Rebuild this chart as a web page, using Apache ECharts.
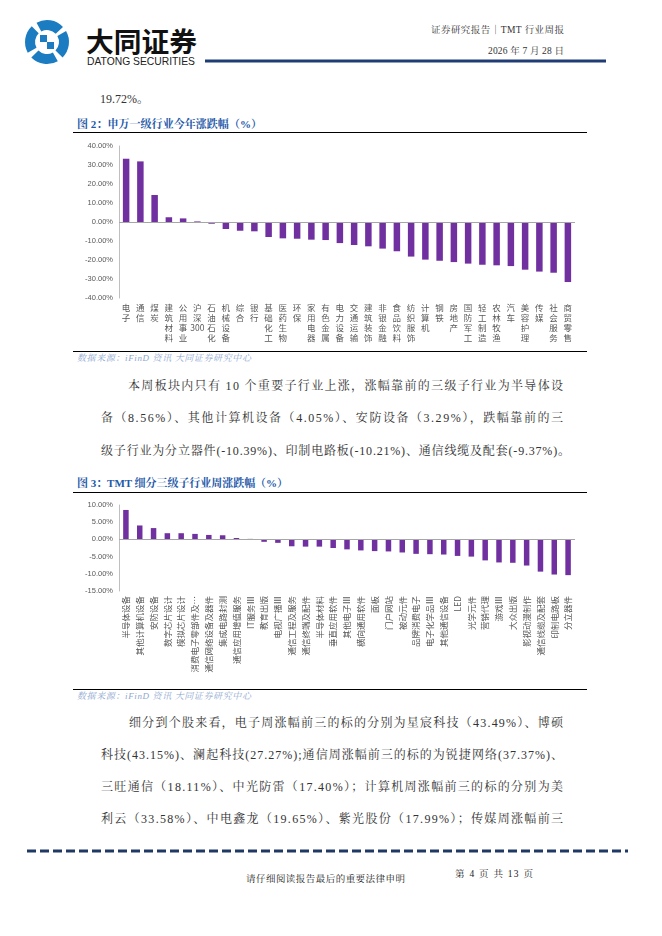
<!DOCTYPE html>
<html>
<head>
<meta charset="utf-8">
<script src="https://cdn.jsdelivr.net/npm/echarts@6/dist/echarts.min.js"></script>
<style>
html,body{margin:0;padding:0;background:#fff;width:662px;height:936px;overflow:hidden}
#page{position:absolute;left:0;top:0}
#c1{position:absolute;left:0;top:136px;width:662px;height:212px}
#c2{position:absolute;left:0;top:498px;width:662px;height:190px}
.t{font-family:'Liberation Serif','Times New Roman','Noto Serif CJK SC','Noto Sans CJK SC',serif}
</style>
</head>
<body>
<svg id="page" width="662" height="936" xmlns="http://www.w3.org/2000/svg">
  <!-- logo -->
  <g transform="translate(47,42)">
    <circle r="17" fill="none" stroke="#1C7CC2" stroke-width="10" stroke-dasharray="22 4.7" transform="rotate(-30)"/>
    <rect x="-7" y="-7" width="7" height="7" fill="#1C7CC2"/>
    <rect x="0" y="0" width="7" height="7" fill="#1C7CC2"/>
    <rect x="0" y="-7" width="7" height="7" fill="#ffffff"/>
  </g>
  <text x="86" y="52" font-family="'Noto Sans CJK SC',sans-serif" font-weight="bold" font-size="27" fill="#111" textLength="111" lengthAdjust="spacingAndGlyphs">大同证券</text>
  <text x="87" y="65" font-family="'Liberation Sans Narrow','Liberation Sans',sans-serif" font-size="11" fill="#222" textLength="108" lengthAdjust="spacingAndGlyphs">DATONG SECURITIES</text>
  <text class="t" x="564" y="33" text-anchor="end" font-size="9.5" fill="#333" textLength="133" lengthAdjust="spacing">证券研究报告｜TMT 行业周报</text>
  <text class="t" x="564" y="54" text-anchor="end" font-size="9.5" fill="#333" textLength="76" lengthAdjust="spacing">2026 年 7 月 28 日</text>
  <line x1="205" y1="61" x2="606" y2="61" stroke="#1F3C74" stroke-width="3"/>

  <text class="t" x="100" y="102.5" font-size="12" fill="#333">19.72%。</text>

  <text class="t" x="77" y="128.2" font-weight="bold" font-size="11" fill="#2458A8" textLength="185" lengthAdjust="spacing">图 2：申万一级行业今年涨跌幅（%）</text>
  <line x1="73" y1="132.5" x2="587" y2="132.5" stroke="#000" stroke-width="1"/>

  <line x1="73" y1="351.5" x2="587" y2="351.5" stroke="#000" stroke-width="1"/>
  <text class="t" x="77" y="361" font-style="italic" font-size="9" fill="#8EA7D0" textLength="174" lengthAdjust="spacing">数据来源：iFinD 资讯  大同证券研究中心</text>

  <g class="t" font-size="12" fill="#333">
    <text x="128" y="389.6" textLength="435" lengthAdjust="spacing">本周板块内只有 10 个重要子行业上涨，涨幅靠前的三级子行业为半导体设</text>
    <text x="101" y="422" textLength="462" lengthAdjust="spacing">备（8.56%）、其他计算机设备（4.05%）、安防设备（3.29%），跌幅靠前的三</text>
    <text x="101" y="454.6" textLength="469" lengthAdjust="spacing">级子行业为分立器件(-10.39%)、印制电路板(-10.21%)、通信线缆及配套(-9.37%)。</text>
  </g>

  <text class="t" x="77" y="487.2" font-weight="bold" font-size="11" fill="#2458A8" textLength="211" lengthAdjust="spacing">图 3：TMT 细分三级子行业周涨跌幅（%）</text>
  <line x1="73" y1="492.5" x2="587" y2="492.5" stroke="#000" stroke-width="1"/>

  <line x1="73" y1="689.5" x2="587" y2="689.5" stroke="#000" stroke-width="1"/>
  <text class="t" x="77" y="698.6" font-style="italic" font-size="9" fill="#8EA7D0" textLength="174" lengthAdjust="spacing">数据来源：iFinD 资讯  大同证券研究中心</text>

  <g class="t" font-size="12" fill="#333">
    <text x="129" y="726.6" textLength="434" lengthAdjust="spacing">细分到个股来看，电子周涨幅前三的标的分别为星宸科技（43.49%）、博硕</text>
    <text x="101" y="758.6" textLength="462" lengthAdjust="spacing">科技(43.15%)、澜起科技(27.27%);通信周涨幅前三的标的为锐捷网络(37.37%)、</text>
    <text x="101" y="790.6" textLength="462" lengthAdjust="spacing">三旺通信（18.11%）、中光防雷（17.40%）；计算机周涨幅前三的标的分别为美</text>
    <text x="101" y="822.6" textLength="462" lengthAdjust="spacing">利云（33.58%）、中电鑫龙（19.65%）、紫光股份（17.99%）；传媒周涨幅前三</text>
  </g>

  <line x1="27" y1="851" x2="628" y2="851" stroke="#1F3864" stroke-width="3" stroke-dasharray="9 4"/>
  <text class="t" x="246" y="881.6" font-size="9.5" fill="#222" textLength="159" lengthAdjust="spacing">请仔细阅读报告最后的重要法律申明</text>
  <text class="t" x="455" y="876.6" font-size="9.5" fill="#222" textLength="78" lengthAdjust="spacing">第 4 页 共 13 页</text>
</svg>
<div id="c1"></div>
<div id="c2"></div>
<script>
// Chart 1: 申万一级行业今年涨跌幅（%）
const industries1 = ['电子','通信','煤炭','建筑材料','公用事业','沪深300','石油石化','机械设备','综合','银行','基础化工','医药生物','环保','家用电器','有色金属','电力设备','交通运输','建筑装饰','非银金融','食品饮料','纺织服饰','计算机','钢铁','房地产','国防军工','轻工制造','农林牧渔','汽车','美容护理','传媒','社会服务','商贸零售'];
const ytdChange1 = [33.3,31.9,14.2,2.5,1.9,0.3,-0.9,-3.7,-4.6,-4.9,-7.9,-8.6,-8.8,-9.3,-9.5,-11.1,-12.1,-12.8,-14.0,-15.4,-18.2,-19.8,-20.4,-21.1,-21.9,-22.5,-22.8,-23.2,-25.1,-26.1,-26.7,-31.6];
const yRange1 = {min:-40, max:40, interval:10};

// Chart 2: TMT 细分三级子行业周涨跌幅（%）
const industries2 = ['半导体设备','其他计算机设备','安防设备','数字芯片设计','模拟芯片设计','消费电子零部件及…','通信网络设备及器件','集成电路封测','通信应用增值服务','IT服务Ⅲ','教育出版','电视广播Ⅲ','通信工程及服务','通信终端及配件','半导体材料','垂直应用软件','其他电子Ⅲ','横向通用软件','面板','门户网站','被动元件','品牌消费电子','电子化学品Ⅲ','其他通信设备','LED','光学元件','营销代理','游戏Ⅲ','大众出版','影视动漫制作','通信线缆及配套','印制电路板','分立器件'];
const weekChange2 = [8.56,4.05,3.29,1.8,1.8,1.6,1.3,1.2,0.4,0.15,-0.7,-1.0,-2.0,-2.1,-2.1,-2.5,-2.9,-3.2,-3.4,-3.5,-3.8,-4.2,-4.3,-4.4,-4.8,-5.0,-6.1,-6.7,-6.8,-7.6,-9.37,-10.21,-10.39];
const yRange2 = {min:-15, max:10, interval:5};

const BAR = '#7030A0';
const AXIS_GREY = '#BFBFBF';
const LABEL_GREY = '#595959';

function pctLabel(v){ return v.toFixed(2) + '%'; }

function stacked(v){
  return (v.match(/[\x00-\x7f]+|./g) || []).join('\n');
}

function baseYAxis(r){
  return {
    type:'value', min:r.min, max:r.max, interval:r.interval,
    axisLine:{show:true, lineStyle:{color:AXIS_GREY, width:1}},
    axisTick:{show:false},
    splitLine:{show:false},
    axisLabel:{formatter:pctLabel, color:LABEL_GREY, fontSize:7.5, fontFamily:'Liberation Sans', margin:6}
  };
}

function zeroLine(){
  return {
    silent:true, symbol:['none','none'],
    label:{show:false},
    lineStyle:{color:'#A6A6A6', width:1, type:'solid'},
    data:[{yAxis:0}]
  };
}

const chart1 = echarts.init(document.getElementById('c1'));
chart1.setOption({
  animation:false,
  grid:{left:119, top:10, width:456, height:152, containLabel:false},
  xAxis:{
    type:'category', data:industries1,
    axisLine:{show:false}, axisTick:{show:false},
    axisLabel:{interval:0, formatter:stacked, color:LABEL_GREY, fontSize:8.5, lineHeight:10,
      fontFamily:'Noto Sans CJK SC', margin:5, verticalAlign:'top'}
  },
  yAxis:baseYAxis(yRange1),
  series:[{
    type:'bar', data:ytdChange1, barWidth:6.5,
    itemStyle:{color:BAR},
    markLine:zeroLine()
  }]
});

const chart2 = echarts.init(document.getElementById('c2'));
chart2.setOption({
  animation:false,
  grid:{left:119, top:7, width:456, height:86, containLabel:false},
  xAxis:{
    type:'category', data:industries2,
    axisLine:{show:false}, axisTick:{show:false},
    axisLabel:{interval:0, rotate:90, color:LABEL_GREY, fontSize:8.5,
      fontFamily:'Noto Sans CJK SC', margin:5}
  },
  yAxis:baseYAxis(yRange2),
  series:[{
    type:'bar', data:weekChange2, barWidth:5.5,
    itemStyle:{color:BAR},
    markLine:zeroLine()
  }]
});
</script>
</body>
</html>
